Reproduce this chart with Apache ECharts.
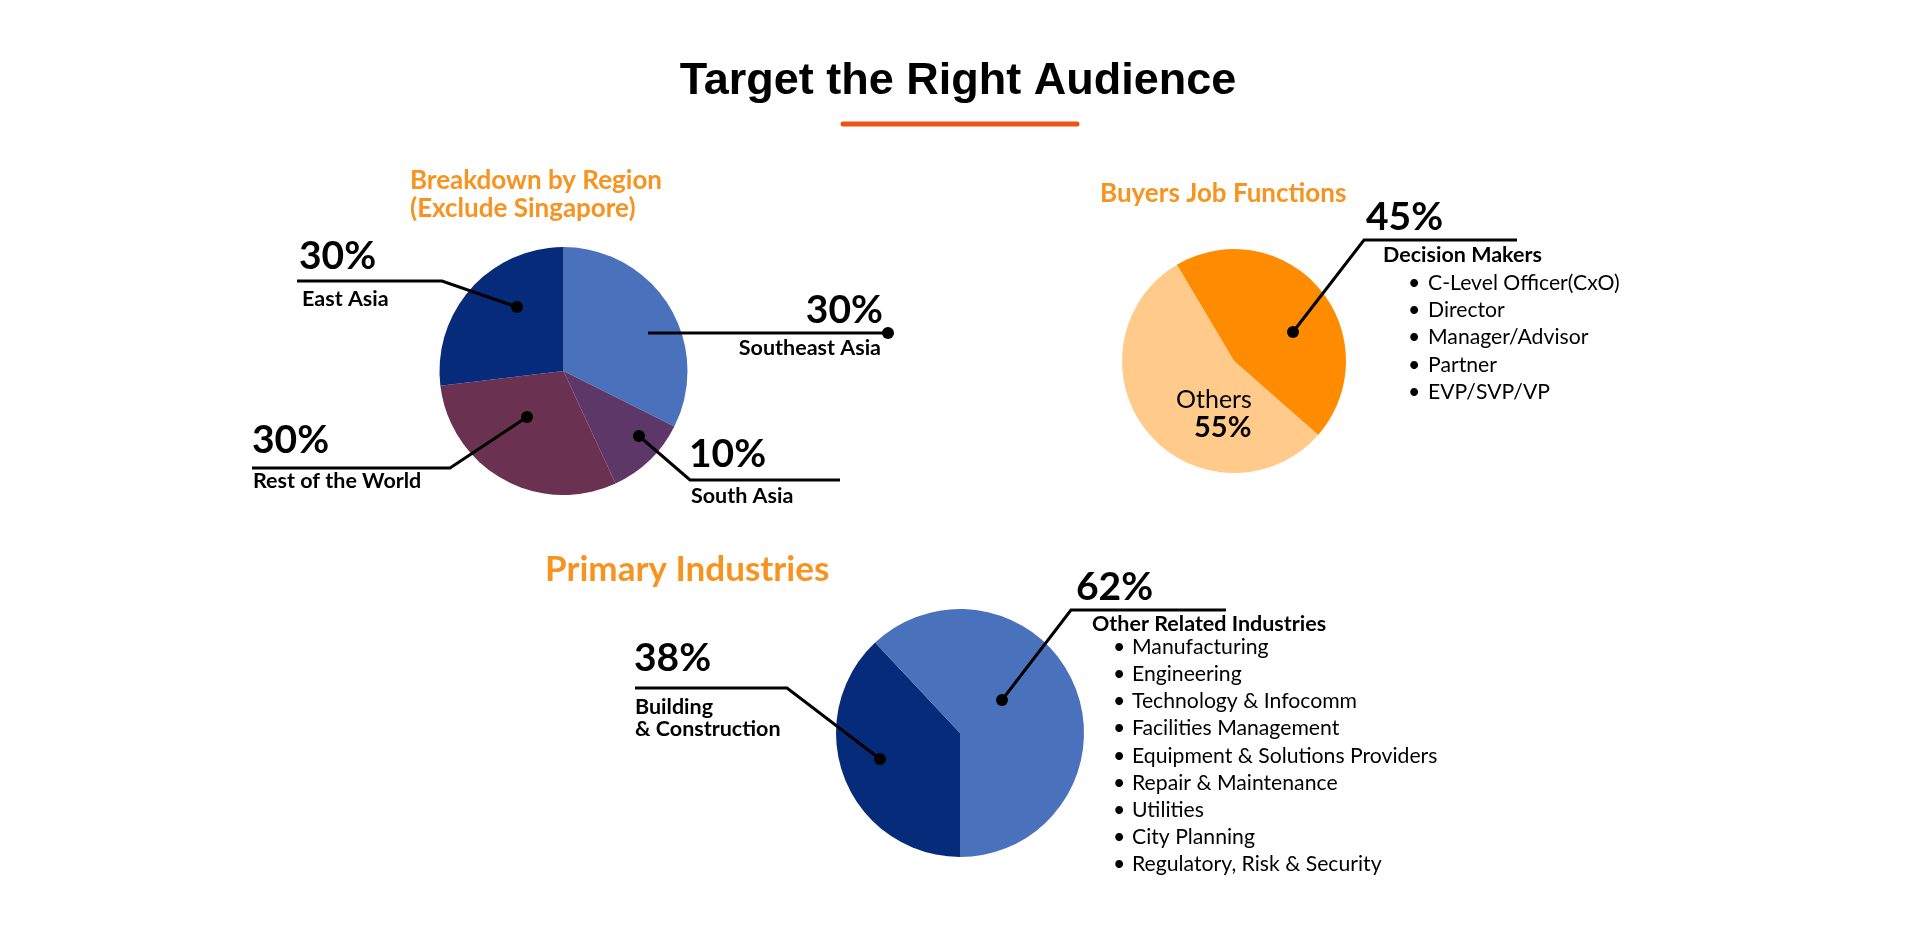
<!DOCTYPE html>
<html>
<head>
<meta charset="utf-8">
<script src="https://cdn.jsdelivr.net/npm/echarts@6/dist/echarts.min.js"></script>
<style>
html,body{margin:0;padding:0;background:#fff;}
#c{width:1915px;height:935px;}
</style>
</head>
<body>
<div id="c"></div>
<script>
// ---- data ----
const regionNames = ['Southeast Asia', 'South Asia', 'Rest of the World', 'East Asia'];
const regionValues = [32.4, 10.7, 30.0, 26.9];   // slice sizes as drawn
const regionLabels = ['30%', '10%', '30%', '30%'];
const jobNames = ['Decision Makers', 'Others'];
const jobValues = [45, 55];
const jobLabels = ['45%', '55%'];
const industryNames = ['Building\n& Construction', 'Other Related Industries'];
const industryValues = [38, 62];
const industryLabels = ['38%', '62%'];
const decisionMakerRoles = ['C-Level Officer(CxO)', 'Director', 'Manager/Advisor', 'Partner', 'EVP/SVP/VP'];
const otherIndustries = ['Manufacturing', 'Engineering', 'Technology & Infocomm', 'Facilities Management',
  'Equipment & Solutions Providers', 'Repair & Maintenance', 'Utilities', 'City Planning', 'Regulatory, Risk & Security'];

// ---- styling ----
const FONT = 'Lato, "Open Sans", sans-serif';
const ORANGE_TXT = '#F7931E';
const regionColors = ['#4A71BC', '#5D3768', '#6B3150', '#052B7A'];
const jobColors = ['#FF8C00', '#FFCA8A'];
const industryColors = ['#052B7A', '#4A71BC'];

const chart = echarts.init(document.getElementById('c'), null, {renderer: 'canvas'});

function txt(text, x, y, size, weight, opts) {
  opts = opts || {};
  return {
    type: 'text', x: x, y: y, silent: true, z: 100,
    style: {
      text: text,
      fontSize: size, fontWeight: weight, fontFamily: opts.family || FONT,
      fill: opts.fill || '#000',
      align: opts.align || 'left', textAlign: opts.align || 'left',
      verticalAlign: 'middle', textVerticalAlign: 'middle'
    }
  };
}
function leader(points) {
  const last = points[points.length - 1];
  return [
    {type: 'polyline', silent: true, z: 100, shape: {points: points},
      style: {stroke: '#000', lineWidth: 3, fill: null, lineJoin: 'miter'}},
    {type: 'circle', silent: true, z: 101, shape: {cx: last[0], cy: last[1], r: 6}, style: {fill: '#000'}}
  ];
}

const LBL = 21.5;   // bold category labels
const PCT = 39;     // big percentages
const LIST = 21.2;  // bullet lists

const graphics = [];
// main title + underline
graphics.push(txt('Target the Right Audience', 958, 82, 45, 'bold', {family: '"Liberation Sans", Arial, sans-serif', align: 'center'}));
graphics.push({type: 'line', silent: true, shape: {x1: 843, y1: 124, x2: 1077, y2: 124},
  style: {stroke: '#EE5413', lineWidth: 5, lineCap: 'round'}});

// sub-headings
graphics.push(txt('Breakdown by Region', 410, 181, 26, 'bold', {fill: ORANGE_TXT}));
graphics.push(txt('(Exclude Singapore)', 410, 209, 26, 'bold', {fill: ORANGE_TXT}));
graphics.push(txt('Buyers Job Functions', 1100, 194, 26, 'bold', {fill: ORANGE_TXT}));
graphics.push(txt('Primary Industries', 545, 570, 35, 'bold', {fill: ORANGE_TXT}));

// region annotations
graphics.push(txt(regionLabels[3], 299, 256, PCT, 'bold'));
graphics.push(txt(regionNames[3], 302, 299, LBL, 'bold'));
graphics.push(...leader([[297, 281], [442, 281], [517, 307]]));

graphics.push(txt(regionLabels[0], 883, 310, PCT, 'bold', {align: 'right'}));
graphics.push(txt(regionNames[0], 881, 348, LBL, 'bold', {align: 'right'}));
graphics.push(...leader([[648, 333], [888, 333]]));

graphics.push(txt(regionLabels[2], 252, 440, PCT, 'bold'));
graphics.push(txt(regionNames[2], 253, 481, LBL, 'bold'));
graphics.push(...leader([[252, 468], [450, 468], [527, 417]]));

graphics.push(txt(regionLabels[1], 689, 454, PCT, 'bold'));
graphics.push(txt(regionNames[1], 691, 496, LBL, 'bold'));
graphics.push(...leader([[840, 480], [690, 480], [639, 436]]));

// job annotations
graphics.push(txt(jobLabels[0], 1366, 217, PCT, 'bold'));
graphics.push(txt(jobNames[0], 1383, 255, LBL, 'bold'));
graphics.push(...leader([[1517, 240], [1364, 240], [1293, 332]]));
decisionMakerRoles.forEach(function (r, i) {
  const y = 283 + i * 27.3;
  graphics.push(txt('\u2022', 1408, y, LIST, 'normal'));
  graphics.push(txt(r, 1428, y, LIST, 'normal'));
});
graphics.push(txt(jobNames[1], 1176, 400, 25, 'normal'));
graphics.push(txt(jobLabels[1], 1194, 428, 29, 'bold'));

// industry annotations
graphics.push(txt(industryLabels[0], 634, 658, PCT, 'bold'));
graphics.push(txt('Building', 635, 707, LBL, 'bold'));
graphics.push(txt('& Construction', 635, 729, LBL, 'bold'));
graphics.push(...leader([[635, 688], [787, 688], [880, 759]]));

graphics.push(txt(industryLabels[1], 1076, 587, PCT, 'bold'));
graphics.push(txt(industryNames[1], 1092, 624, LBL, 'bold'));
graphics.push(...leader([[1226, 610], [1071, 610], [1002, 700]]));
otherIndustries.forEach(function (r, i) {
  const y = 647 + i * 27.2;
  graphics.push(txt('\u2022', 1113, y, LIST, 'normal'));
  graphics.push(txt(r, 1132, y, LIST, 'normal'));
});

function pieSeries(names, values, colors, center, radius, startAngle) {
  return {
    type: 'pie', center: center, radius: radius, startAngle: startAngle, clockwise: true,
    silent: true, animation: false, label: {show: false}, labelLine: {show: false},
    emphasis: {disabled: true}, padAngle: 0,
    itemStyle: {borderWidth: 0},
    data: names.map(function (n, i) { return {name: n, value: values[i], itemStyle: {color: colors[i]}}; })
  };
}

chart.setOption({
  backgroundColor: '#ffffff',
  animation: false,
  tooltip: {show: false},
  series: [
    pieSeries(regionNames, regionValues, regionColors, [563.5, 371], 124, 90),
    pieSeries(jobNames, jobValues, jobColors, [1234, 361], 112, 120.7),
    pieSeries(industryNames, industryValues, industryColors, [960, 733], 124, -90)
  ],
  graphic: graphics
});
</script>
</body>
</html>
